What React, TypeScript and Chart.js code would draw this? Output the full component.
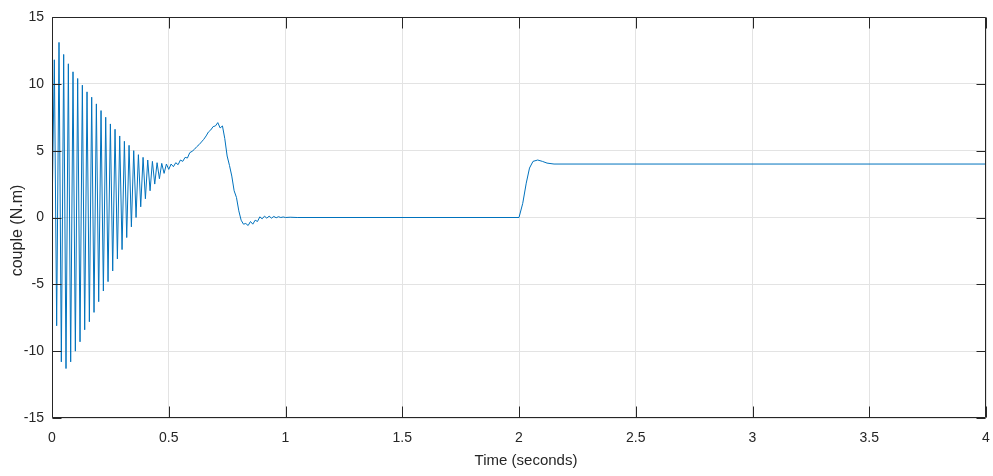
import React, { useEffect, useRef } from "react";
import { Chart, registerables } from "chart.js";

Chart.register(...registerables);

// Time samples (s) and torque (N.m)
const timeS: number[] = [
  0, 0.01, 0.02, 0.03, 0.04, 0.05, 0.06, 0.07, 0.08, 0.09,
  0.1, 0.11, 0.12, 0.13, 0.14, 0.15, 0.16, 0.17, 0.18, 0.19,
  0.2, 0.21, 0.22, 0.23, 0.24, 0.25, 0.26, 0.27, 0.28, 0.29,
  0.3, 0.31, 0.32, 0.33, 0.34, 0.35, 0.36, 0.37, 0.38, 0.39,
  0.4, 0.41, 0.42, 0.43, 0.44, 0.45, 0.46, 0.47, 0.48, 0.49,
  0.5, 0.51, 0.52, 0.53, 0.54, 0.55, 0.56, 0.57, 0.58, 0.59,
  0.6, 0.61, 0.62, 0.63, 0.64, 0.65, 0.66, 0.67, 0.68, 0.69,
  0.7, 0.71, 0.72, 0.73, 0.74, 0.75, 0.76, 0.77, 0.78, 0.79,
  0.8, 0.81, 0.82, 0.83, 0.84, 0.85, 0.86, 0.87, 0.88, 0.89,
  0.9, 0.91, 0.92, 0.93, 0.94, 0.95, 0.96, 0.97, 0.98, 0.99,
  1.0, 1.02, 1.05, 2.0, 2.016, 2.031, 2.045, 2.06, 2.08, 2.1,
  2.12, 2.15, 4.0,
];

const torqueNm: number[] = [
  0, 11.8, -8.1, 13.1, -10.8, 12.2, -11.3, 11.5, -10.8, 10.9,
  -10.0, 10.4, -9.3, 9.9, -8.4, 9.4, -7.8, 9.0, -7.1, 8.5,
  -6.3, 8.0, -5.5, 7.5, -4.8, 7.0, -4.0, 6.6, -3.1, 6.1,
  -2.4, 5.7, -1.5, 5.4, -0.7, 5.0, 0.0, 4.7, 0.8, 4.5,
  1.4, 4.3, 2.0, 4.2, 2.5, 4.1, 2.9, 4.05, 3.3, 4.0,
  3.6, 4.0, 3.8, 4.1, 3.95, 4.3, 4.2, 4.5, 4.45, 4.85,
  4.95, 5.1, 5.3, 5.45, 5.65, 5.85, 6.1, 6.4, 6.55, 6.8,
  6.85, 7.1, 6.7, 6.85, 5.9, 4.6, 3.9, 3.1, 2.0, 1.5,
  0.5, -0.2, -0.5, -0.45, -0.6, -0.3, -0.5, -0.2, -0.3, 0.05,
  -0.1, 0.1, -0.05, 0.1, -0.05, 0.08, -0.02, 0.06, 0.0, 0.04,
  0.0, 0.02, 0, 0, 1.06, 2.57, 3.7, 4.2, 4.3, 4.2,
  4.07, 4.0, 4.0,
];

const xTicks: number[] = [0, 0.5, 1, 1.5, 2, 2.5, 3, 3.5, 4];
const yTicks: number[] = [-15, -10, -5, 0, 5, 10, 15];
const xTitle = "Time (seconds)";
const yTitle = "couple (N.m)";

const FONT = "'Liberation Sans', Arial, Helvetica, sans-serif";
const AXIS_COLOR = "#262626";

const boxPlugin = {
  id: "matlabBox",
  afterDraw(chart: any) {
    const { ctx, chartArea } = chart;
    const { left, right, top, bottom } = chartArea;
    const xs = chart.scales.x;
    const ys = chart.scales.y;
    ctx.save();
    ctx.strokeStyle = AXIS_COLOR;
    ctx.lineWidth = 1;
    ctx.beginPath();
    const L = Math.round(left) + 0.5;
    const R = Math.round(right) - 0.5;
    const T = Math.round(top) + 0.5;
    const B = Math.round(bottom) - 0.5;
    ctx.rect(L, T, R - L, B - T);
    xTicks.forEach((v) => {
      const px = Math.round(xs.getPixelForValue(v)) + 0.5;
      ctx.moveTo(px, B);
      ctx.lineTo(px, B - 11);
      ctx.moveTo(px, T);
      ctx.lineTo(px, T + 11);
    });
    yTicks.forEach((v) => {
      const py = Math.round(ys.getPixelForValue(v)) + 0.5;
      ctx.moveTo(L, py);
      ctx.lineTo(L + 9, py);
      ctx.moveTo(R, py);
      ctx.lineTo(R - 9, py);
    });
    ctx.stroke();

    // axis titles
    ctx.fillStyle = AXIS_COLOR;
    ctx.textAlign = "center";
    ctx.textBaseline = "middle";
    ctx.font = `15px ${FONT}`;
    ctx.fillText(xTitle, (left + right) / 2 + 7, 461);
    ctx.save();
    ctx.translate(18, (top + bottom) / 2 + 13);
    ctx.rotate(-Math.PI / 2);
    ctx.font = `16px ${FONT}`;
    ctx.fillText(yTitle, 0, 0);
    ctx.restore();
    ctx.restore();
  },
};

export default function App() {
  const ref = useRef<HTMLCanvasElement | null>(null);

  useEffect(() => {
    document.body.style.margin = "0";
    const canvas = ref.current;
    if (!canvas) return;
    const points = timeS.map((t, i) => ({ x: t, y: torqueNm[i] }));
    const chart = new Chart(canvas, {
      type: "line",
      data: {
        datasets: [
          {
            data: points,
            borderColor: "#0072BD",
            borderWidth: 1,
            pointRadius: 0,
            tension: 0,
            fill: false,
          },
        ],
      },
      options: {
        animation: false,
        responsive: false,
        maintainAspectRatio: false,
        layout: { padding: { left: 0, right: 7, top: 17, bottom: 0 } },
        plugins: { legend: { display: false }, tooltip: { enabled: false } },
        scales: {
          x: {
            type: "linear",
            min: 0,
            max: 4,
            afterFit: (s: any) => {
              s.height = 58;
              s.paddingLeft = 0;
              s.paddingRight = 0;
            },
            afterBuildTicks: (s: any) => {
              s.ticks = xTicks.map((v) => ({ value: v }));
            },
            ticks: {
              color: AXIS_COLOR,
              font: { family: FONT, size: 14 },
              padding: 12,
              maxRotation: 0,
              autoSkip: false,
              callback: (v: any) => String(v),
            },
            grid: { color: "#e3e3e3", drawTicks: false, lineWidth: 1 },
            border: { display: false },
          },
          y: {
            type: "linear",
            min: -15,
            max: 15,
            afterFit: (s: any) => {
              s.width = 52;
              s.paddingTop = 0;
              s.paddingBottom = 0;
            },
            afterBuildTicks: (s: any) => {
              s.ticks = yTicks.map((v) => ({ value: v }));
            },
            ticks: {
              color: AXIS_COLOR,
              font: { family: FONT, size: 14 },
              padding: 8,
              autoSkip: false,
              callback: (v: any) => String(v),
            },
            grid: { color: "#e3e3e3", drawTicks: false, lineWidth: 1 },
            border: { display: false },
          },
        },
      },
      plugins: [boxPlugin],
    });
    return () => chart.destroy();
  }, []);

  return (
    <div style={{ position: "absolute", left: 0, top: 0, width: 993, height: 476, background: "#fff" }}>
      <canvas ref={ref} width={993} height={476} style={{ display: "block" }} />
    </div>
  );
}
